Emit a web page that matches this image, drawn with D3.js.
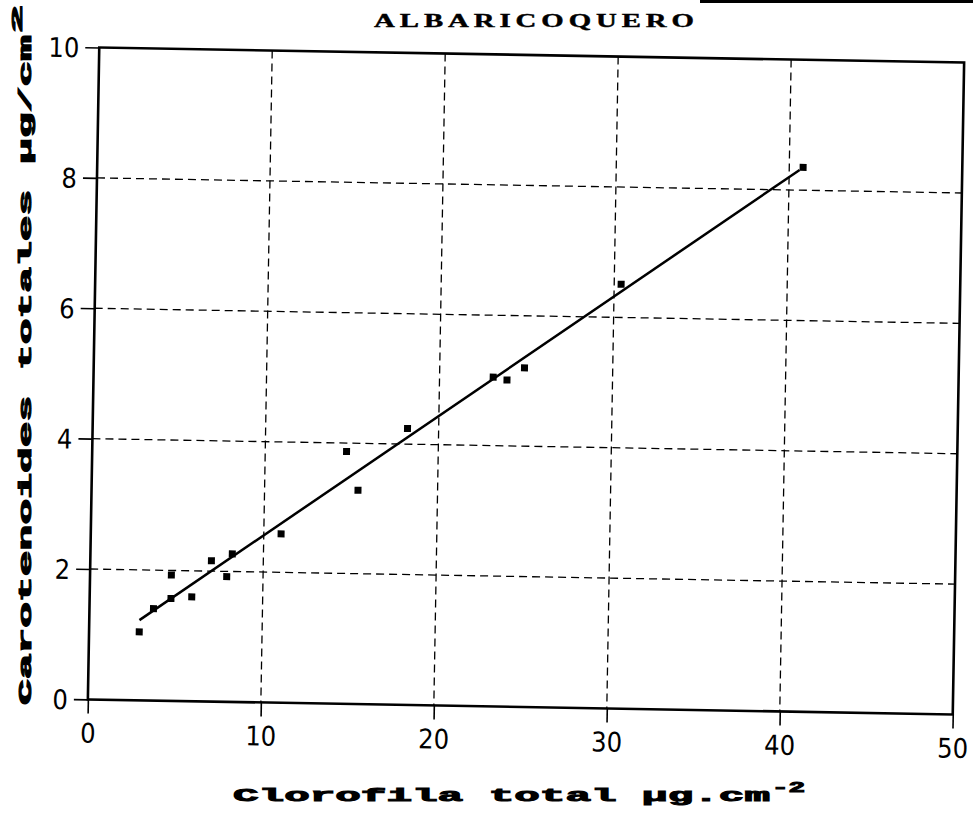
<!DOCTYPE html>
<html>
<head>
<meta charset="utf-8">
<style>
  body { margin: 0; background: #fff; }
  svg { display: block; }
  .tick text { font-family: "Liberation Sans Narrow", "DejaVu Sans Condensed", sans-serif; font-size: 27px; fill: #000; }
  .tick line { stroke: #000; stroke-width: 1.6px; }
  .heavy { font-family: "Liberation Mono", "DejaVu Sans Mono", monospace; font-weight: bold; fill: #000; stroke: #000; stroke-width: 1px; }
  .grid { stroke: #000; stroke-width: 1.3px; stroke-dasharray: 8,5; }
</style>
<script src="https://cdn.jsdelivr.net/npm/d3@7"></script>
</head>
<body>
<script>
// measured points (chlorophyll total vs total carotenoids, ug/cm2)
var chlorophyll = [2.9, 3.7, 4.7, 4.7, 5.9, 7.0, 7.9, 8.2, 11.0, 14.7, 15.4, 18.2, 23.1, 23.9, 24.9, 30.4, 40.8];
var carotenoids = [1.05, 1.41, 1.93, 1.57, 1.60, 2.16, 1.92, 2.27, 2.59, 3.87, 3.28, 4.24, 5.05, 5.01, 5.20, 6.51, 8.35];

// ends of the fitted line
var fitX = [2.9, 40.6];
var fitY = [1.23, 8.31];

var xTicks = [0, 10, 20, 30, 40, 50];
var yTicks = [0, 2, 4, 6, 8, 10];

var W = 973, H = 813;
var margin = {top: 55, right: 14.5, bottom: 106, left: 93.5};
var width = W - margin.left - margin.right,
    height = H - margin.top - margin.bottom;

var svg = d3.select("body").append("svg")
  .attr("width", W)
  .attr("height", H);

// scanner strip at the top edge
svg.append("rect").attr("x", 700).attr("y", 0).attr("width", 273).attr("height", 3).attr("fill", "#000");

// the whole plot sits tilted about 1 degree in the scan
var plot = svg.append("g")
  .attr("transform", "rotate(1,526,381) translate(" + margin.left + "," + margin.top + ")");

var x = d3.scaleLinear().domain([0, 50]).range([0, width]);
var y = d3.scaleLinear().domain([0, 10]).range([height, 0]);

// dashed grid
plot.selectAll(".vgrid")
  .data(xTicks.slice(1, -1))
  .enter().append("line")
  .attr("class", "grid")
  .attr("x1", function(d) { return x(d); })
  .attr("x2", function(d) { return x(d); })
  .attr("y1", 0)
  .attr("y2", height);

plot.selectAll(".hgrid")
  .data(yTicks.slice(1, -1))
  .enter().append("line")
  .attr("class", "grid")
  .attr("x1", 0)
  .attr("x2", width)
  .attr("y1", function(d) { return y(d); })
  .attr("y2", function(d) { return y(d); });

// axes
var xAxis = plot.append("g")
  .attr("transform", "translate(0," + height + ")")
  .call(d3.axisBottom(x).tickValues(xTicks).tickSize(14).tickPadding(10));
xAxis.select(".domain").remove();

var yAxis = plot.append("g")
  .call(d3.axisLeft(y).tickValues(yTicks).tickSize(14).tickPadding(6));
yAxis.select(".domain").remove();
yAxis.selectAll(".tick text").attr("dy", "0.36em");

// frame
plot.append("rect")
  .attr("x", 0).attr("y", 0)
  .attr("width", width).attr("height", height)
  .attr("fill", "none")
  .attr("stroke", "#000")
  .attr("stroke-width", 2.6);

// fitted line
var line = d3.line()
  .x(function(d) { return x(d[0]); })
  .y(function(d) { return y(d[1]); });

plot.append("path")
  .datum(d3.zip(fitX, fitY))
  .attr("d", line)
  .attr("fill", "none")
  .attr("stroke", "#000")
  .attr("stroke-width", 2.5);

// points
plot.selectAll(".pt")
  .data(d3.zip(chlorophyll, carotenoids))
  .enter().append("rect")
  .attr("class", "pt")
  .attr("x", function(d) { return x(d[0]) - 3.5; })
  .attr("y", function(d) { return y(d[1]) - 3.5; })
  .attr("width", 7)
  .attr("height", 7)
  .attr("fill", "#000");

// title
svg.append("g")
  .attr("transform", "translate(534,27) scale(1.6,1)")
  .append("text")
  .attr("text-anchor", "middle")
  .attr("textLength", 200)
  .attr("lengthAdjust", "spacing")
  .style("font-family", "'Liberation Serif', 'DejaVu Serif', serif")
  .style("font-weight", "bold")
  .style("font-size", "18px")
  .style("stroke", "#000")
  .style("stroke-width", "0.4px")
  .text("ALBARICOQUERO");

// x title
svg.append("text")
  .attr("class", "heavy")
  .attr("x", 233).attr("y", 801)
  .attr("textLength", 537)
  .attr("lengthAdjust", "spacingAndGlyphs")
  .style("font-size", "19px")
  .text("Clorofila total \u00b5g.cm");
svg.append("text")
  .attr("class", "heavy")
  .attr("x", 772).attr("y", 792)
  .attr("textLength", 33)
  .attr("lengthAdjust", "spacingAndGlyphs")
  .style("font-size", "14px")
  .text("-2");

// y title
var yt = svg.append("g").attr("transform", "translate(31,705) rotate(-90)");
yt.append("text")
  .attr("class", "heavy")
  .attr("x", 0).attr("y", 0)
  .attr("textLength", 670)
  .attr("lengthAdjust", "spacingAndGlyphs")
  .style("font-size", "19px")
  .text("Carotenoides totales \u00b5g/cm");
yt.append("text")
  .attr("class", "heavy")
  .attr("x", 672).attr("y", -9)
  .attr("textLength", 28)
  .attr("lengthAdjust", "spacingAndGlyphs")
  .style("font-size", "14px")
  .text("2");
</script>
</body>
</html>
